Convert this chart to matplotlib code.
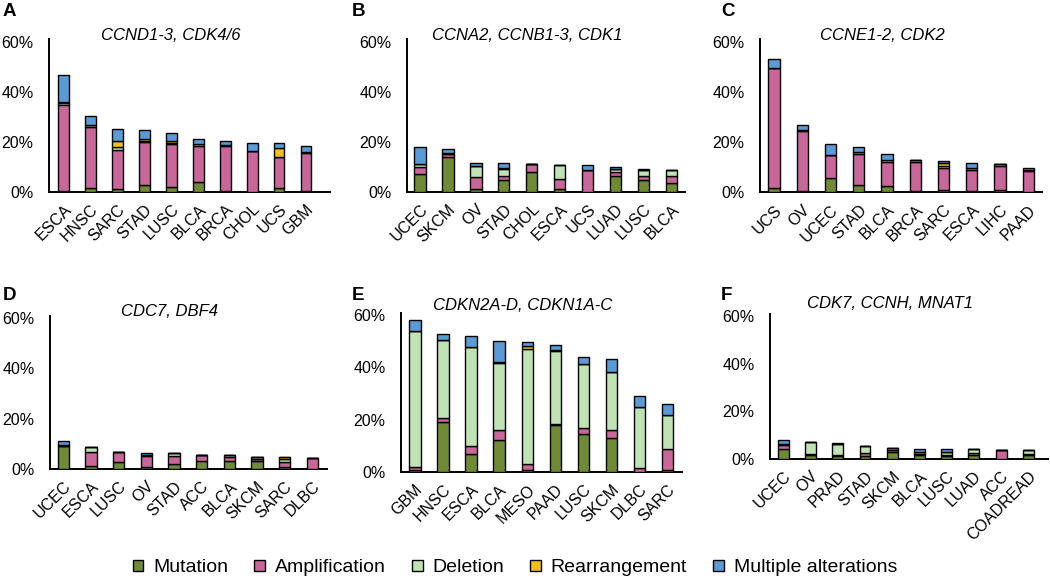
import matplotlib
matplotlib.use("Agg")
import matplotlib.pyplot as plt
from matplotlib.patches import Patch

plt.rcParams["font.family"] = ["Liberation Sans", "DejaVu Sans"]

# ── Colours ───────────────────────────────────────────────────────────────────
SERIES = ["Mutation", "Amplification", "Deletion", "Rearrangement",
          "Multiple alterations"]
COLORS = ["#708B35", "#C9679A", "#BFE3B4", "#F0C020", "#5B9BD5"]

# ── Panel A: CCND1-3, CDK4/6 ──────────────────────────────────────────────────
A_CATS  = ["ESCA", "HNSC", "SARC", "STAD", "LUSC", "BLCA", "BRCA", "CHOL", "UCS", "GBM"]
A_MUT   = [0.5, 1.7, 1.0, 2.6, 2.0, 4.0, 0.5, 0.0, 1.6, 0.4]
A_AMP   = [34.5, 24.3, 15.9, 17.2, 17.1, 14.5, 17.7, 16.5, 12.5, 15.2]
A_DEL   = [0.5, 0.7, 1.2, 0.6, 0.6, 0.7, 0.5, 0.0, 0.0, 0.5]
A_REARR = [0.7, 0.0, 2.2, 0.6, 0.6, 0.0, 0.0, 0.0, 3.3, 0.0]
A_MULTI = [10.6, 3.6, 4.9, 3.9, 3.4, 1.9, 1.5, 3.0, 2.1, 2.4]

# ── Panel B: CCNA2, CCNB1-3, CDK1 ─────────────────────────────────────────────
B_CATS  = ["UCEC", "SKCM", "OV", "STAD", "CHOL", "ESCA", "UCS", "LUAD", "LUSC", "BLCA"]
B_MUT   = [7.3, 14.1, 1.0, 4.9, 7.9, 1.3, 0.0, 6.3, 4.6, 3.6]
B_AMP   = [2.6, 1.1, 4.9, 1.4, 3.3, 4.0, 8.6, 1.6, 1.6, 2.7]
B_DEL   = [1.3, 0.5, 4.4, 2.9, 0.0, 5.6, 0.0, 1.3, 2.4, 2.3]
B_REARR = [0.0, 0.0, 0.0, 0.5, 0.0, 0.0, 0.0, 0.0, 0.0, 0.0]
B_MULTI = [6.9, 1.5, 1.4, 1.8, 0.0, 0.0, 2.0, 0.7, 0.5, 0.2]

# ── Panel C: CCNE1-2, CDK2 ────────────────────────────────────────────────────
C_CATS  = ["UCS", "OV", "UCEC", "STAD", "BLCA", "BRCA", "SARC", "ESCA", "LIHC", "PAAD"]
C_MUT   = [1.7, 0.5, 5.9, 2.9, 2.4, 0.4, 0.9, 0.5, 0.9, 0.0]
C_AMP   = [48.0, 24.1, 9.2, 12.6, 9.8, 11.8, 8.7, 8.4, 9.8, 8.4]
C_DEL   = [0.0, 0.3, 0.0, 0.5, 0.6, 0.8, 0.8, 0.7, 0.6, 0.5]
C_REARR = [0.0, 0.0, 0.0, 0.0, 0.0, 0.0, 1.2, 0.0, 0.0, 0.0]
C_MULTI = [3.6, 2.1, 4.4, 2.0, 2.5, 0.0, 0.8, 2.0, 0.0, 1.0]

# ── Panel D: CDC7, DBF4 ───────────────────────────────────────────────────────
D_CATS  = ["UCEC", "ESCA", "LUSC", "OV", "STAD", "ACC", "BLCA", "SKCM", "SARC", "DLBC"]
D_MUT   = [9.2, 1.1, 2.8, 0.8, 2.0, 3.0, 3.0, 3.3, 0.8, 0.0]
D_AMP   = [0.0, 5.5, 3.8, 4.2, 3.0, 2.7, 1.6, 0.7, 2.0, 4.3]
D_DEL   = [0.3, 2.3, 0.0, 0.6, 1.2, 0.0, 1.1, 0.6, 1.0, 0.0]
D_REARR = [0.0, 0.0, 0.0, 0.0, 0.0, 0.0, 0.0, 0.0, 0.8, 0.0]
D_MULTI = [1.8, 0.0, 0.0, 0.6, 0.0, 0.0, 0.0, 0.0, 0.0, 0.0]

# ── Panel E: CDKN2A-D, CDKN1A-C ───────────────────────────────────────────────
E_CATS  = ["GBM", "HNSC", "ESCA", "BLCA", "MESO", "PAAD", "LUSC", "SKCM", "DLBC", "SARC"]
E_MUT   = [0.6, 19.0, 7.0, 12.4, 0.9, 18.1, 14.6, 13.1, 0.0, 0.8]
E_AMP   = [1.3, 1.7, 2.8, 3.5, 2.3, 0.3, 2.2, 2.8, 1.7, 7.8]
E_DEL   = [51.9, 29.7, 37.8, 25.6, 43.8, 27.7, 24.4, 22.2, 23.0, 13.0]
E_REARR = [0.0, 0.0, 0.0, 0.5, 1.2, 0.5, 0.0, 0.0, 0.0, 0.0]
E_MULTI = [4.4, 2.3, 4.4, 7.9, 1.3, 2.0, 2.6, 4.9, 4.5, 4.4]

# ── Panel F: CDK7, CCNH, MNAT1 ────────────────────────────────────────────────
F_CATS  = ["UCEC", "OV", "PRAD", "STAD", "SKCM", "BLCA", "LUSC", "LUAD", "ACC", "COADREAD"]
F_MUT   = [4.4, 1.5, 1.2, 1.4, 3.1, 1.7, 1.1, 1.5, 0.0, 1.7]
F_AMP   = [1.4, 0.5, 0.5, 1.0, 0.5, 0.3, 0.4, 0.9, 3.6, 0.3]
F_DEL   = [0.5, 5.2, 4.6, 3.0, 1.1, 1.0, 1.5, 1.6, 0.0, 1.6]
F_REARR = [0.0, 0.0, 0.0, 0.0, 0.0, 0.0, 0.0, 0.0, 0.0, 0.0]
F_MULTI = [1.5, 0.0, 0.6, 0.0, 0.0, 1.4, 1.0, 0.0, 0.0, 0.0]

PANELS = [
    ("A", "CCND1-3, CDK4/6", A_CATS, [A_MUT, A_AMP, A_DEL, A_REARR, A_MULTI]),
    ("B", "CCNA2, CCNB1-3, CDK1", B_CATS, [B_MUT, B_AMP, B_DEL, B_REARR, B_MULTI]),
    ("C", "CCNE1-2, CDK2", C_CATS, [C_MUT, C_AMP, C_DEL, C_REARR, C_MULTI]),
    ("D", "CDC7, DBF4", D_CATS, [D_MUT, D_AMP, D_DEL, D_REARR, D_MULTI]),
    ("E", "CDKN2A-D, CDKN1A-C", E_CATS, [E_MUT, E_AMP, E_DEL, E_REARR, E_MULTI]),
    ("F", "CDK7, CCNH, MNAT1", F_CATS, [F_MUT, F_AMP, F_DEL, F_REARR, F_MULTI]),
]

# ── Layout in pixels: spine x, x-axis end, first/last bar centre,
#    0% y, 60% y, spine top y, letter x, letter y, title y ────────────────────
LAYOUT = [
    (49, 330, 63.7, 306.0, 192, 42, 39, 3, 11, 36),
    (407, 685, 420.0, 671.7, 192, 42, 39, 352, 11, 36),
    (760, 1042, 774.0, 1028.3, 192.5, 42.5, 39, 721, 11, 36),
    (50, 327, 63.3, 312.3, 469, 318, 316, 3, 295, 311),
    (401, 682, 415.0, 667.3, 472, 315, 313, 352, 295, 305),
    (770, 1048, 783.3, 1028.3, 459, 316, 314, 721, 295, 304),
]

W, H = 1050, 582
fig = plt.figure(figsize=(W / 100, H / 100), dpi=100)

for (letter, title, cats, series), lay in zip(PANELS, LAYOUT):
    sx, rx, c0, c9, y0, y60, ytop, lx, ly, ty = lay
    ax = fig.add_axes([sx / W, 1 - y0 / H, (rx - sx) / W, (y0 - ytop) / H])
    step = (c9 - c0) / (len(cats) - 1)
    ax.set_xlim(-(c0 - sx) / step, len(cats) - 1 + (rx - c9) / step)
    ax.set_ylim(0, 60 * (y0 - ytop) / (y0 - y60))

    x = list(range(len(cats)))
    bottom = [0.0] * len(cats)
    for vals, col in zip(series, COLORS):
        ax.bar(x, vals, 0.4, bottom=bottom, color=col,
               edgecolor="black", linewidth=1.0, zorder=3)
        bottom = [b + v for b, v in zip(bottom, vals)]

    ax.set_yticks([0, 20, 40, 60])
    ax.set_yticklabels(["0%", "20%", "40%", "60%"])
    ax.set_xticks(x)
    ax.set_xticklabels(cats, rotation=45, ha="right", rotation_mode="anchor")
    ax.tick_params(axis="y", length=0, pad=11, labelsize=11.5)
    ax.tick_params(axis="x", length=0, pad=7, labelsize=11.5)
    for side in ("top", "right"):
        ax.spines[side].set_visible(False)
    for side in ("left", "bottom"):
        ax.spines[side].set_linewidth(1.4)

    fig.text(((sx + rx) / 2 - 19) / W, 1 - ty / H, title, style="italic",
             fontsize=12, ha="center", va="center")
    fig.text(lx / W, 1 - ly / H, letter, fontweight="bold", fontsize=13.5,
             ha="left", va="center")

handles = [Patch(facecolor=c, edgecolor="black", linewidth=1.0) for c in COLORS]
fig.legend(handles, SERIES, loc="center", bbox_to_anchor=(515 / W, 1 - 568 / H),
           ncol=5, frameon=False, fontsize=14, handlelength=0.55,
           handleheight=0.55, handletextpad=0.5, columnspacing=1.35)

fig.savefig("out.png", dpi=100)
